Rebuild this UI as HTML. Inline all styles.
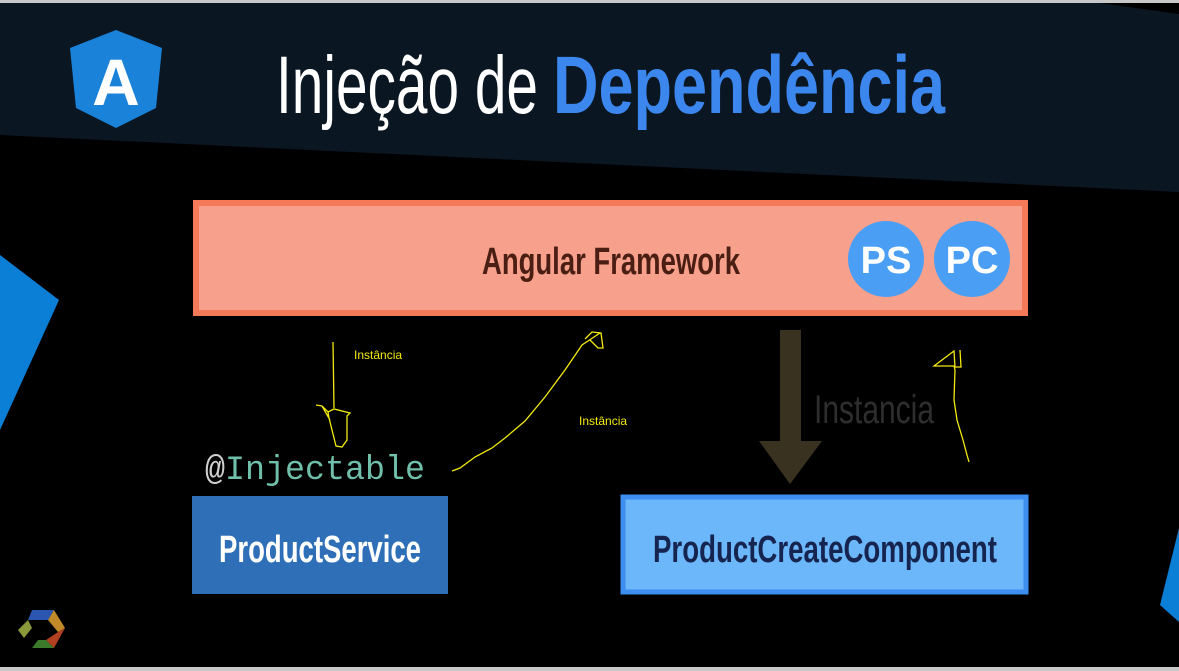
<!DOCTYPE html>
<html><head><meta charset="utf-8"><style>
html,body{margin:0;padding:0;background:#000;}
svg{display:block}
</style></head><body>
<svg width="1179" height="671" viewBox="0 0 1179 671" xmlns="http://www.w3.org/2000/svg">
<rect width="1179" height="671" fill="#000"/>
<rect x="0" y="0" width="1179" height="3" fill="#c8c8c8"/>
<rect x="0" y="667" width="1179" height="4" fill="#c8c8c8"/>
<polygon points="0,3 1100,3 1179,14 1179,192 0,135" fill="#0b1623"/>
<polygon points="116,30 162,48 156,108 116,128 76,108 70,48" fill="#1a82d9"/>
<text x="116" y="105" font-family="Liberation Sans Narrow, Liberation Sans, sans-serif" font-size="66" font-weight="bold" fill="#fff" text-anchor="middle">A</text>
<text x="276" y="113" font-family="Liberation Sans Narrow, Liberation Sans, sans-serif" font-size="82" fill="#fff" textLength="262" lengthAdjust="spacingAndGlyphs">Injeção de</text>
<text x="553" y="113" font-family="Liberation Sans Narrow, Liberation Sans, sans-serif" font-size="82" font-weight="bold" fill="#3c87ee" textLength="392" lengthAdjust="spacingAndGlyphs">Dependência</text>
<polygon points="0,255 59,300 0,430" fill="#0b7fd6"/>
<polygon points="1179,528 1160,605 1179,622" fill="#0b7fd6"/>
<rect x="196" y="203" width="829" height="110" fill="#f7a08c" stroke="#f47a5a" stroke-width="6"/>
<text x="611" y="274" font-family="Liberation Sans Narrow, Liberation Sans, sans-serif" font-size="38" font-weight="bold" fill="#4a1e12" text-anchor="middle" textLength="258" lengthAdjust="spacingAndGlyphs">Angular Framework</text>
<circle cx="886" cy="259" r="38" fill="#4a9ff5"/>
<circle cx="972" cy="259" r="38" fill="#4a9ff5"/>
<text x="886" y="273" font-family="Liberation Sans Narrow, Liberation Sans, sans-serif" font-size="38" font-weight="bold" fill="#fff" text-anchor="middle">PS</text>
<text x="972" y="273" font-family="Liberation Sans Narrow, Liberation Sans, sans-serif" font-size="38" font-weight="bold" fill="#fff" text-anchor="middle">PC</text>
<rect x="780" y="330" width="21" height="112" fill="#3a3220"/>
<polygon points="759,441 822,441 790,484" fill="#3a3220"/>
<text x="814" y="423" font-family="Liberation Sans Narrow, Liberation Sans, sans-serif" font-size="40" fill="#2e2e2e" textLength="120" lengthAdjust="spacingAndGlyphs">Instancia</text>
<text x="205" y="479" font-family="Liberation Mono, DejaVu Sans Mono, monospace" font-size="34" fill="#6fbfaa" textLength="220" lengthAdjust="spacingAndGlyphs"><tspan fill="#d0d0d0">@</tspan>Injectable</text>
<rect x="192" y="496" width="256" height="98" fill="#2f6fb8"/>
<text x="320" y="562" font-family="Liberation Sans Narrow, Liberation Sans, sans-serif" font-size="38" font-weight="bold" fill="#fff" text-anchor="middle" textLength="202" lengthAdjust="spacingAndGlyphs">ProductService</text>
<rect x="623" y="497" width="403" height="95" fill="#6cb6fa" stroke="#3d8ef0" stroke-width="5"/>
<text x="825" y="562" font-family="Liberation Sans Narrow, Liberation Sans, sans-serif" font-size="38" font-weight="bold" fill="#15254f" text-anchor="middle" textLength="344" lengthAdjust="spacingAndGlyphs">ProductCreateComponent</text>
<g fill="none" stroke="#f2ea10" stroke-width="1.3">
<path d="M333,342 L334,408 M316,405 L322,406 L328,412 L334,409 L350,413 L347,416 L347,440 L342,447 L336,446 L329,418 L328,412 M322,406 L330,420"/>
<path d="M452,471 L460,468 L475,457 L492,448 L505,438 L525,421 L545,397 L565,370 L582,345 L600,333 M585,339 L592,332 L601,333 L603,348 L598,348 L590,340"/>
<path d="M969,462 L967,455 L963,440 L957,420 L954,400 L955,370 L954,366 L934,366 L954,351 L955,367 L961,367 L960,350"/>
</g>
<text x="354" y="359" font-family="Liberation Sans, sans-serif" font-size="12" fill="#f2ea10">Instância</text>
<text x="579" y="425" font-family="Liberation Sans, sans-serif" font-size="12" fill="#f2ea10">Instância</text>
<g transform="translate(18,610)">
<polygon points="14,0 36,0 30,10 10,10" fill="#2a56b0"/>
<polygon points="36,0 47,18 40,22 30,10" fill="#c08a2a"/>
<polygon points="47,18 36,38 28,30 40,22" fill="#b04020"/>
<polygon points="36,38 14,38 20,30 28,30" fill="#3a7a2a"/>
<polygon points="0,20 10,10 14,18 6,28" fill="#8a9a3a"/>
</g>
</svg>
</body></html>
